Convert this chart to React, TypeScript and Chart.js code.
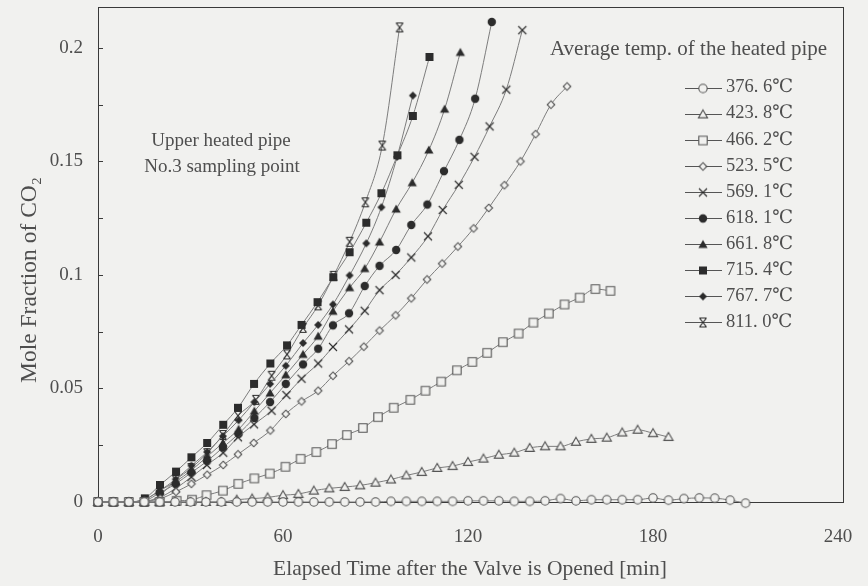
import React, { useEffect, useRef } from "react";
import { Chart, registerables } from "chart.js";

Chart.register(...registerables);

// ---- data (elapsed time [min] and mole fraction of CO2, per series) ----
const timeGrid = [0, 5, 10, 15, 20, 25, 30, 35, 40, 45, 50, 55, 60, 65, 70, 75, 80, 85, 90, 95, 100, 105, 110, 115, 120, 125, 130, 135, 140, 145, 150, 155, 160, 165, 170, 175, 180, 185, 190, 195, 200, 205, 210];

const temps = ["376. 6℃", "423. 8℃", "466. 2℃", "523. 5℃", "569. 1℃", "618. 1℃", "661. 8℃", "715. 4℃", "767. 7℃", "811. 0℃"];

const t466 = [0, 5, 10, 15, 20, 25.5, 30.5, 35.2, 40.5, 45.5, 50.7, 55.7, 60.8, 65.7, 70.8, 75.9, 80.7, 85.9, 90.8, 95.9, 101.3, 106.2, 111.3, 116.4, 121.4, 126.2, 131.3, 136.4, 141.2, 146.2, 151.3, 156.2, 161.3, 166.2];
const t523 = [0, 5, 10, 15, 20.2, 25.3, 30.3, 35.4, 40.6, 45.4, 50.5, 55.9, 60.9, 66, 71.4, 76.2, 81.4, 86.2, 91.3, 96.5, 101.6, 106.7, 111.6, 116.7, 121.8, 126.7, 131.8, 137, 141.9, 146.9, 152.1];
const t569 = [0, 5, 10, 15, 20.1, 25.2, 30.3, 35.3, 40.6, 45.4, 50.6, 56.3, 61.1, 66, 71.4, 76.2, 81.4, 86.5, 91.3, 96.5, 101.6, 107, 111.8, 117, 122.1, 127, 132.4, 137.6];
const t618 = [0, 5, 10, 15, 20, 25.2, 30.3, 35.4, 40.5, 45.6, 50.7, 55.8, 60.9, 66.5, 71.4, 76.2, 81.4, 86.5, 91.3, 96.7, 101.6, 106.8, 112.2, 117.2, 122.3, 127.7];
const t661 = [0, 5, 10, 15, 20, 25.2, 30.3, 35.4, 40.5, 45.6, 50.7, 55.8, 60.9, 66.5, 71.4, 76.2, 81.6, 86.5, 91.3, 96.7, 101.9, 107.3, 112.4, 117.5];
const t715 = [0, 5, 10, 15.2, 20.1, 25.3, 30.3, 35.4, 40.6, 45.4, 50.6, 55.9, 61.3, 66, 71.2, 76.3, 81.6, 87, 91.9, 97.1, 102.1, 107.5];
const t767 = [0, 5, 10, 15, 20, 25.2, 30.3, 35.4, 40.5, 45.6, 50.7, 55.8, 60.9, 66.5, 71.4, 76.2, 81.6, 87, 91.9, 97, 102.1];
const t811 = [0, 5, 10, 15, 20.1, 25.2, 30.3, 35.4, 40.5, 45.4, 51.2, 56.3, 61.3, 66.5, 71.4, 76.4, 81.6, 86.7, 92.2, 97.8];

const v376 = [0, 0, 0, 0, 0, 0, 0, 0, 0, 0, 0, 0, 0, 0, 0, 0, 0, 0, 0, 0.0003, 0.0003, 0.0003, 0.0003, 0.0003, 0.0005, 0.0005, 0.0005, 0.0003, 0.0003, 0.0005, 0.0015, 0.0005, 0.001, 0.001, 0.001, 0.001, 0.0018, 0.0008, 0.0015, 0.0018, 0.0017, 0.0008, -0.0005];
const v423 = [0, 0, 0, 0, 0, 0, 0, 0, 0, 0.001, 0.0015, 0.002, 0.003, 0.0035, 0.005, 0.006, 0.0066, 0.0073, 0.0085, 0.0099, 0.0117, 0.0132, 0.015, 0.0158, 0.0176, 0.0191, 0.0208, 0.0217, 0.0238, 0.0245, 0.0245, 0.0265, 0.0278, 0.0283, 0.0306, 0.0318, 0.0303, 0.0286];
const v466 = [0, 0, 0, 0, 0, 0.0005, 0.001, 0.003, 0.005, 0.008, 0.0104, 0.0125, 0.0155, 0.019, 0.022, 0.0255, 0.0295, 0.0326, 0.0374, 0.0415, 0.045, 0.049, 0.053, 0.058, 0.0617, 0.0657, 0.0704, 0.0742, 0.079, 0.083, 0.087, 0.09, 0.0938, 0.093];
const v523 = [0, 0, 0, 0.0005, 0.0015, 0.0045, 0.008, 0.012, 0.0163, 0.021, 0.026, 0.0315, 0.0388, 0.0443, 0.049, 0.0556, 0.062, 0.0684, 0.0755, 0.0822, 0.0897, 0.098, 0.105, 0.1125, 0.1205, 0.1295, 0.1395, 0.15, 0.162, 0.175, 0.183];
const v569 = [0, 0, 0, 0, 0.002, 0.006, 0.011, 0.0163, 0.0217, 0.0285, 0.0342, 0.0402, 0.0471, 0.0543, 0.061, 0.0683, 0.076, 0.0842, 0.0933, 0.1, 0.1077, 0.117, 0.1286, 0.1397, 0.152, 0.1654, 0.1816, 0.2078];
const v618 = [0, 0, 0, 0.0005, 0.004, 0.008, 0.013, 0.018, 0.024, 0.03, 0.037, 0.044, 0.052, 0.0606, 0.0675, 0.0778, 0.0831, 0.0951, 0.104, 0.111, 0.122, 0.131, 0.1457, 0.1595, 0.1776, 0.2114];
const v661 = [0, 0, 0, 0.001, 0.005, 0.009, 0.014, 0.02, 0.026, 0.032, 0.04, 0.048, 0.056, 0.065, 0.073, 0.084, 0.0944, 0.1028, 0.1145, 0.129, 0.1406, 0.155, 0.173, 0.198];
const v715 = [0, 0, 0, 0.0016, 0.0075, 0.0134, 0.0197, 0.026, 0.034, 0.0415, 0.052, 0.061, 0.069, 0.078, 0.088, 0.099, 0.11, 0.123, 0.136, 0.1527, 0.17, 0.196];
const v767 = [0, 0, 0, 0.001, 0.005, 0.01, 0.016, 0.022, 0.029, 0.036, 0.044, 0.052, 0.06, 0.07, 0.078, 0.087, 0.0998, 0.1139, 0.1298, 0.152, 0.179];
const v811 = [0, 0, 0, 0, 0.003, 0.0097, 0.015, 0.0215, 0.0295, 0.038, 0.045, 0.0556, 0.065, 0.0767, 0.0866, 0.0996, 0.1146, 0.132, 0.157, 0.209];

const seriesTimes = [timeGrid, timeGrid, t466, t523, t569, t618, t661, t715, t767, t811];
const seriesValues = [v376, v423, v466, v523, v569, v618, v661, v715, v767, v811];
const markerKinds = ["circleOpen", "triOpen", "squareOpen", "diamondOpen", "cross", "circleFill", "triFill", "squareFill", "diamondFill", "hourglass"];

const xTicks = [0, 60, 120, 180, 240];
const yTicks = [0, 0.05, 0.1, 0.15, 0.2];
const yMinorTicks = [0.025, 0.05, 0.075, 0.1, 0.125, 0.15, 0.175, 0.2];

const xTitle = "Elapsed Time after the Valve is Opened [min]";
const yTitle = "Mole Fraction of CO₂";
const legendTitle = "Average temp. of the heated pipe";
const noteLines = ["Upper heated pipe", "No.3 sampling point"];

// ---- style ----
const BG = "#f1f1ef";
const INK = "#2c2c2c";
const OPEN = "#555555";
const LINE = "#7d7d7d";
const TEXT = "#4e4e4e";
const FONT = "'Liberation Serif', 'DejaVu Serif', serif";

function makeMarker(kind: string): HTMLCanvasElement {
  const s = 14;
  const c = document.createElement("canvas");
  c.width = s;
  c.height = s;
  const g = c.getContext("2d")!;
  const m = s / 2;
  g.lineWidth = 1.1;
  g.strokeStyle = OPEN;
  g.fillStyle = BG;
  const poly = (pts: number[][]) => {
    g.beginPath();
    pts.forEach((p, i) => (i ? g.lineTo(p[0], p[1]) : g.moveTo(p[0], p[1])));
    g.closePath();
  };
  switch (kind) {
    case "circleOpen":
      g.beginPath();
      g.arc(m, m, 4.2, 0, Math.PI * 2);
      g.fill();
      g.stroke();
      break;
    case "triOpen":
      poly([[m, m - 4.6], [m + 4.6, m + 3.4], [m - 4.6, m + 3.4]]);
      g.fill();
      g.stroke();
      break;
    case "squareOpen":
      g.beginPath();
      g.rect(m - 4.2, m - 4.2, 8.4, 8.4);
      g.fill();
      g.stroke();
      break;
    case "diamondOpen":
      poly([[m, m - 3.8], [m + 3.8, m], [m, m + 3.8], [m - 3.8, m]]);
      g.fill();
      g.stroke();
      break;
    case "cross":
      g.strokeStyle = INK;
      g.beginPath();
      g.moveTo(m - 4, m - 4);
      g.lineTo(m + 4, m + 4);
      g.moveTo(m + 4, m - 4);
      g.lineTo(m - 4, m + 4);
      g.stroke();
      break;
    case "circleFill":
      g.fillStyle = INK;
      g.beginPath();
      g.arc(m, m, 4.2, 0, Math.PI * 2);
      g.fill();
      break;
    case "triFill":
      g.fillStyle = INK;
      poly([[m, m - 4.6], [m + 4.6, m + 3.4], [m - 4.6, m + 3.4]]);
      g.fill();
      break;
    case "squareFill":
      g.fillStyle = INK;
      g.fillRect(m - 4, m - 4, 8, 8);
      break;
    case "diamondFill":
      g.fillStyle = INK;
      poly([[m, m - 4], [m + 4, m], [m, m + 4], [m - 4, m]]);
      g.fill();
      break;
    case "hourglass":
      g.strokeStyle = INK;
      g.lineWidth = 1.2;
      g.beginPath();
      g.moveTo(m - 3.5, m - 4.5);
      g.lineTo(m + 3.5, m + 4.5);
      g.moveTo(m + 3.5, m - 4.5);
      g.lineTo(m - 3.5, m + 4.5);
      g.moveTo(m - 3.5, m - 4.5);
      g.lineTo(m + 3.5, m - 4.5);
      g.moveTo(m - 3.5, m + 4.5);
      g.lineTo(m + 3.5, m + 4.5);
      g.stroke();
      break;
  }
  return c;
}

export default function App() {
  const ref = useRef<HTMLCanvasElement>(null);

  useEffect(() => {
    document.body.style.margin = "0";
    document.body.style.background = BG;
    const canvas = ref.current!;
    const markers = markerKinds.map(makeMarker);

    const datasets = seriesValues.map((vals, i) => ({
      label: temps[i],
      data: vals.map((v, j) => ({ x: seriesTimes[i][j], y: v })),
      borderColor: LINE,
      borderWidth: 1,
      pointStyle: markers[i] as any,
      pointRadius: 5,
      cubicInterpolationMode: "monotone" as const,
      clip: false as any,
    }));

    const decor = {
      id: "decor",
      beforeDraw(chart: any) {
        const ctx = chart.ctx;
        ctx.save();
        ctx.fillStyle = BG;
        ctx.fillRect(0, 0, chart.width, chart.height);
        ctx.restore();
      },
      beforeDatasetsDraw(chart: any) {
        const ctx = chart.ctx;
        const a = chart.chartArea;
        const ys = chart.scales.y;
        ctx.save();
        ctx.strokeStyle = "#3a3a3a";
        ctx.lineWidth = 1;
        ctx.strokeRect(Math.round(a.left) + 0.5, Math.round(a.top) + 0.5, Math.round(a.right - a.left), Math.round(a.bottom - a.top));
        ctx.beginPath();
        yMinorTicks.forEach((v) => {
          const y = Math.round(ys.getPixelForValue(v)) + 0.5;
          ctx.moveTo(a.left, y);
          ctx.lineTo(a.left + 5, y);
        });
        ctx.stroke();
        ctx.restore();
      },
      afterDraw(chart: any) {
        const ctx = chart.ctx;
        ctx.save();
        ctx.fillStyle = TEXT;
        // axis titles
        ctx.font = `21.5px ${FONT}`;
        ctx.textAlign = "center";
        ctx.textBaseline = "middle";
        ctx.fillText(xTitle, 470, 569);
        ctx.save();
        ctx.font = `23.5px ${FONT}`;
        ctx.translate(30, 280);
        ctx.rotate(-Math.PI / 2);
        ctx.fillText(yTitle, 0, 0);
        ctx.restore();
        // note
        ctx.font = `19px ${FONT}`;
        ctx.textAlign = "center";
        ctx.fillText(noteLines[0], 221, 141);
        ctx.fillText(noteLines[1], 222, 167);
        // legend
        ctx.font = `21px ${FONT}`;
        ctx.textAlign = "left";
        ctx.fillText(legendTitle, 550, 49);
        ctx.font = `18.5px ${FONT}`;
        temps.forEach((t, i) => {
          const y = 87.5 + i * 26.1;
          ctx.strokeStyle = "#555";
          ctx.lineWidth = 1;
          ctx.beginPath();
          ctx.moveTo(685, Math.round(y) + 0.5);
          ctx.lineTo(722, Math.round(y) + 0.5);
          ctx.stroke();
          const mk = markers[i];
          ctx.drawImage(mk, 703 - mk.width / 2, Math.round(y) - mk.height / 2 + 0.5);
          ctx.fillText(t, 726, y);
        });
        ctx.restore();
      },
    };

    const chart = new Chart(canvas, {
      type: "line",
      data: { datasets },
      plugins: [decor],
      options: {
        animation: false,
        responsive: false,
        devicePixelRatio: 1,
        layout: { padding: { top: 7, right: 25, bottom: 0, left: 0 } },
        plugins: { legend: { display: false }, tooltip: { enabled: false } },
        scales: {
          x: {
            type: "linear",
            min: 0,
            max: 241.6,
            grid: { display: false, drawTicks: false },
            border: { display: false },
            afterBuildTicks: (ax: any) => {
              ax.ticks = xTicks.map((v) => ({ value: v }));
            },
            afterFit: (ax: any) => {
              ax.height = 84;
              ax.paddingLeft = 0;
              ax.paddingRight = 0;
              ax.paddingTop = 0;
              ax.paddingBottom = 0;
            },
            ticks: { color: TEXT, font: { family: FONT, size: 19 }, padding: 24, maxRotation: 0 },
          },
          y: {
            type: "linear",
            min: 0,
            max: 0.218,
            grid: { display: false, drawTicks: false },
            border: { display: false },
            afterBuildTicks: (ax: any) => {
              ax.ticks = yTicks.map((v) => ({ value: v }));
            },
            afterFit: (ax: any) => {
              ax.width = 98;
              ax.paddingLeft = 0;
              ax.paddingRight = 0;
              ax.paddingTop = 0;
              ax.paddingBottom = 0;
            },
            ticks: {
              color: TEXT,
              font: { family: FONT, size: 19 },
              padding: 15,
              callback: (v: any) => (v === 0 ? "0" : String(parseFloat(Number(v).toFixed(3)))),
            },
          },
        },
      } as any,
    });

    return () => chart.destroy();
  }, []);

  return (
    <div style={{ width: 868, height: 586, background: BG }}>
      <canvas ref={ref} width={868} height={586} style={{ display: "block" }} />
    </div>
  );
}
